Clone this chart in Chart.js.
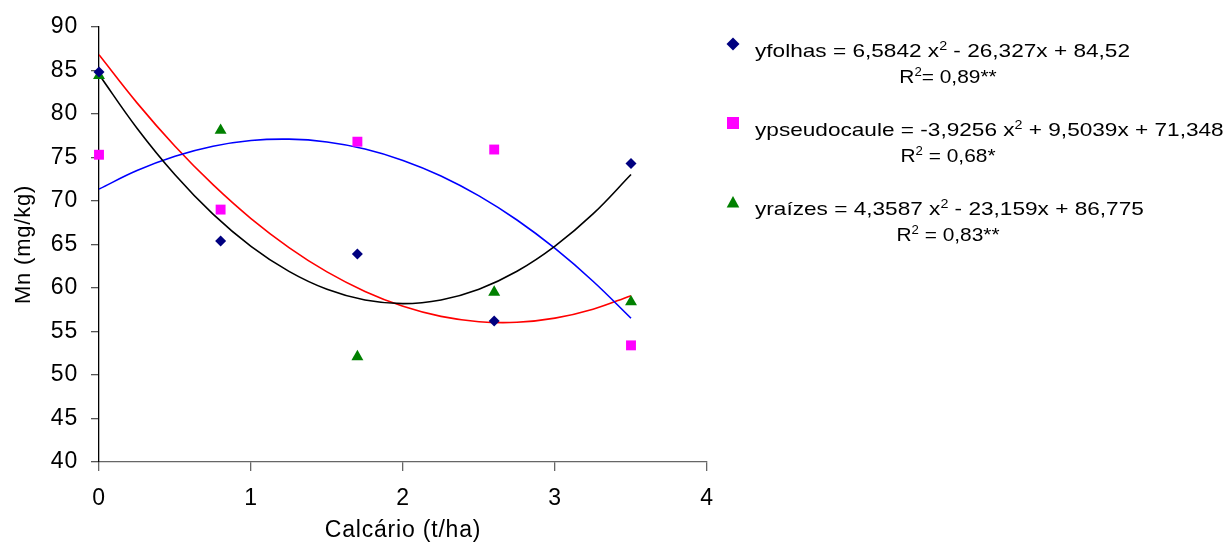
<!DOCTYPE html>
<html>
<head>
<meta charset="utf-8">
<script src="https://cdn.jsdelivr.net/npm/chart.js@4/dist/chart.umd.min.js"></script>
<style>
  html, body { margin: 0; padding: 0; background: #fff; }
</style>
</head>
<body>
<canvas id="mn" width="1227" height="544"></canvas>
<script>
// observed points (dose de calcário, t/ha)
const doses = [0, 0.8, 1.7, 2.6, 3.5];
const folhas = [84.8, 65.4, 63.9, 56.2, 74.3];
const pseudocaule = [75.3, 69.0, 76.8, 75.9, 53.4];
const raizes = [84.4, 78.1, 52.1, 59.5, 58.4];

// trend lines
const curveX = [0, 0.25, 0.5, 0.75, 1, 1.25, 1.5, 1.75, 2, 2.25, 2.5, 2.75, 3, 3.25, 3.5];
const folhasCurve = [84.52, 78.35, 73.00, 68.48, 64.78, 61.90, 59.84, 58.61, 58.20, 58.62, 59.85, 61.91, 64.80, 68.50, 73.03];
const pseudoCurve = [71.35, 73.48, 75.12, 76.27, 76.93, 77.09, 76.77, 75.96, 74.65, 72.86, 70.57, 67.80, 64.53, 60.77, 56.52];
const raizesCurve = [86.78, 81.26, 76.28, 71.86, 67.97, 64.64, 61.84, 59.60, 57.89, 56.73, 56.12, 56.05, 56.53, 57.55, 59.11];

const yTicks = [40, 45, 50, 55, 60, 65, 70, 75, 80, 85, 90];
const xTicks = [0, 1, 2, 3, 4];

// equation texts: [before, superscript, after]
const eqLines = [
    ['yfolhas = 6,5842 x', '2', ' - 26,327x + 84,52'],
    ['ypseudocaule = -3,9256 x', '2', ' + 9,5039x + 71,348'],
    ['yraízes = 4,3587 x', '2', ' - 23,159x + 86,775'],
];
const r2Lines = [
    ['R', '2', '= 0,89**'],
    ['R', '2', ' = 0,68*'],
    ['R', '2', ' = 0,83**'],
];
const markerStyles = ['rectRot', 'rect', 'triangle'];
const markerColors = ['#000080', '#FF00FF', '#008000'];

const pts = (xs, ys) => xs.map((x, i) => ({ x: x, y: ys[i] }));

Chart.defaults.font.family = 'Arial, "Liberation Sans", sans-serif';
Chart.defaults.color = '#000';

const BIG = '19px Arial, "Liberation Sans"';
const SUP = '12px Arial, "Liberation Sans"';

function drawMarker(ctx, style, x, y, s) {
    ctx.beginPath();
    if (style === 'rectRot') {
        ctx.moveTo(x, y - s); ctx.lineTo(x + s, y); ctx.lineTo(x, y + s); ctx.lineTo(x - s, y);
    } else if (style === 'rect') {
        ctx.rect(x - s, y - s, 2 * s, 2 * s);
    } else {
        ctx.moveTo(x, y - s); ctx.lineTo(x + s * 1.05, y + s * 0.9); ctx.lineTo(x - s * 1.05, y + s * 0.9);
    }
    ctx.closePath();
    ctx.fill();
}

function richWidth(ctx, parts) {
    ctx.font = BIG;
    let w = ctx.measureText(parts[0]).width + ctx.measureText(parts[2]).width;
    ctx.font = SUP;
    return w + ctx.measureText(parts[1]).width;
}

// text in the reference is drawn a bit wide, so stretch horizontally
function drawRich(ctx, parts, x, y, sx) {
    ctx.save();
    ctx.translate(x, y);
    ctx.scale(sx, 1);
    let cx = 0;
    ctx.font = BIG;
    ctx.fillText(parts[0], cx, 0);
    cx += ctx.measureText(parts[0]).width;
    ctx.font = SUP;
    ctx.fillText(parts[1], cx, -7);
    cx += ctx.measureText(parts[1]).width;
    ctx.font = BIG;
    ctx.fillText(parts[2], cx, 0);
    ctx.restore();
}

const eqLegend = {
    id: 'eqLegend',
    beforeDraw(chart) {
        chart.ctx.letterSpacing = '0.8px';
    },
    afterDraw(chart) {
        const ctx = chart.ctx;
        ctx.save();
        ctx.letterSpacing = '0px';
        ctx.textBaseline = 'alphabetic';
        ctx.textAlign = 'left';
        eqLines.forEach((line, i) => {
            const base = 57 + i * 79;
            ctx.fillStyle = markerColors[i];
            drawMarker(ctx, markerStyles[i], 733, base - 13, i === 0 ? 6.5 : 6);
            ctx.fillStyle = '#000';
            drawRich(ctx, line, 755, base, 1.19);
            const w = richWidth(ctx, r2Lines[i]) * 1.1;
            drawRich(ctx, r2Lines[i], 948 - w / 2, base + 26, 1.1);
        });
        ctx.restore();
    }
};

new Chart(document.getElementById('mn'), {
    type: 'scatter',
    data: {
        datasets: [
            {
                label: 'folhas', data: pts(doses, folhas), order: 0, clip: false,
                pointStyle: 'rectRot', pointRadius: 5.5, pointBackgroundColor: '#000080', pointBorderWidth: 0,
            },
            {
                label: 'pseudocaule', data: pts(doses, pseudocaule), order: 0, clip: false,
                pointStyle: 'rect', pointRadius: 7, pointBackgroundColor: '#FF00FF', pointBorderWidth: 0,
            },
            {
                label: 'raízes', data: pts(doses, raizes), order: 0, clip: false,
                pointStyle: 'triangle', pointRadius: 6.9, pointBackgroundColor: '#008000', pointBorderWidth: 0,
            },
            {
                label: 'folhas (ajuste)', data: pts(curveX, folhasCurve), order: 1,
                showLine: true, pointRadius: 0, borderColor: '#000000', borderWidth: 1.6, tension: 0.4,
            },
            {
                label: 'pseudocaule (ajuste)', data: pts(curveX, pseudoCurve), order: 1,
                showLine: true, pointRadius: 0, borderColor: '#0000FF', borderWidth: 1.6, tension: 0.4,
            },
            {
                label: 'raízes (ajuste)', data: pts(curveX, raizesCurve), order: 1,
                showLine: true, pointRadius: 0, borderColor: '#FF0000', borderWidth: 1.6, tension: 0.4,
            },
        ]
    },
    options: {
        responsive: false,
        animation: false,
        layout: { padding: { top: 26, right: 520, left: 0, bottom: 0 } },
        plugins: {
            legend: { display: false },
            tooltip: { enabled: false },
        },
        scales: {
            x: {
                type: 'linear', min: 0, max: 4,
                afterBuildTicks: s => { s.ticks = xTicks.map(v => ({ value: v })); },
                afterFit: s => { s.height = 82; },
                border: { color: '#666', width: 1.3 },
                grid: { drawOnChartArea: false, tickLength: 9, color: '#666', lineWidth: 1.3 },
                ticks: { font: { size: 23 }, padding: 14, maxRotation: 0 },
                title: { display: true, text: 'Calcário (t/ha)', font: { size: 23 }, padding: { top: 0, bottom: 0 } },
            },
            y: {
                min: 40, max: 90,
                afterBuildTicks: s => { s.ticks = yTicks.map(v => ({ value: v })); },
                afterFit: s => { s.width = 99; },
                border: { color: '#000', width: 1.3 },
                grid: { drawOnChartArea: false, tickLength: 8, color: '#555', lineWidth: 1.3 },
                ticks: { font: { size: 23 }, padding: 13 },
                title: { display: true, text: 'Mn (mg/kg)', font: { size: 22 }, padding: { top: 11, bottom: 0 } },
            }
        }
    },
    plugins: [eqLegend]
});
</script>
</body>
</html>
